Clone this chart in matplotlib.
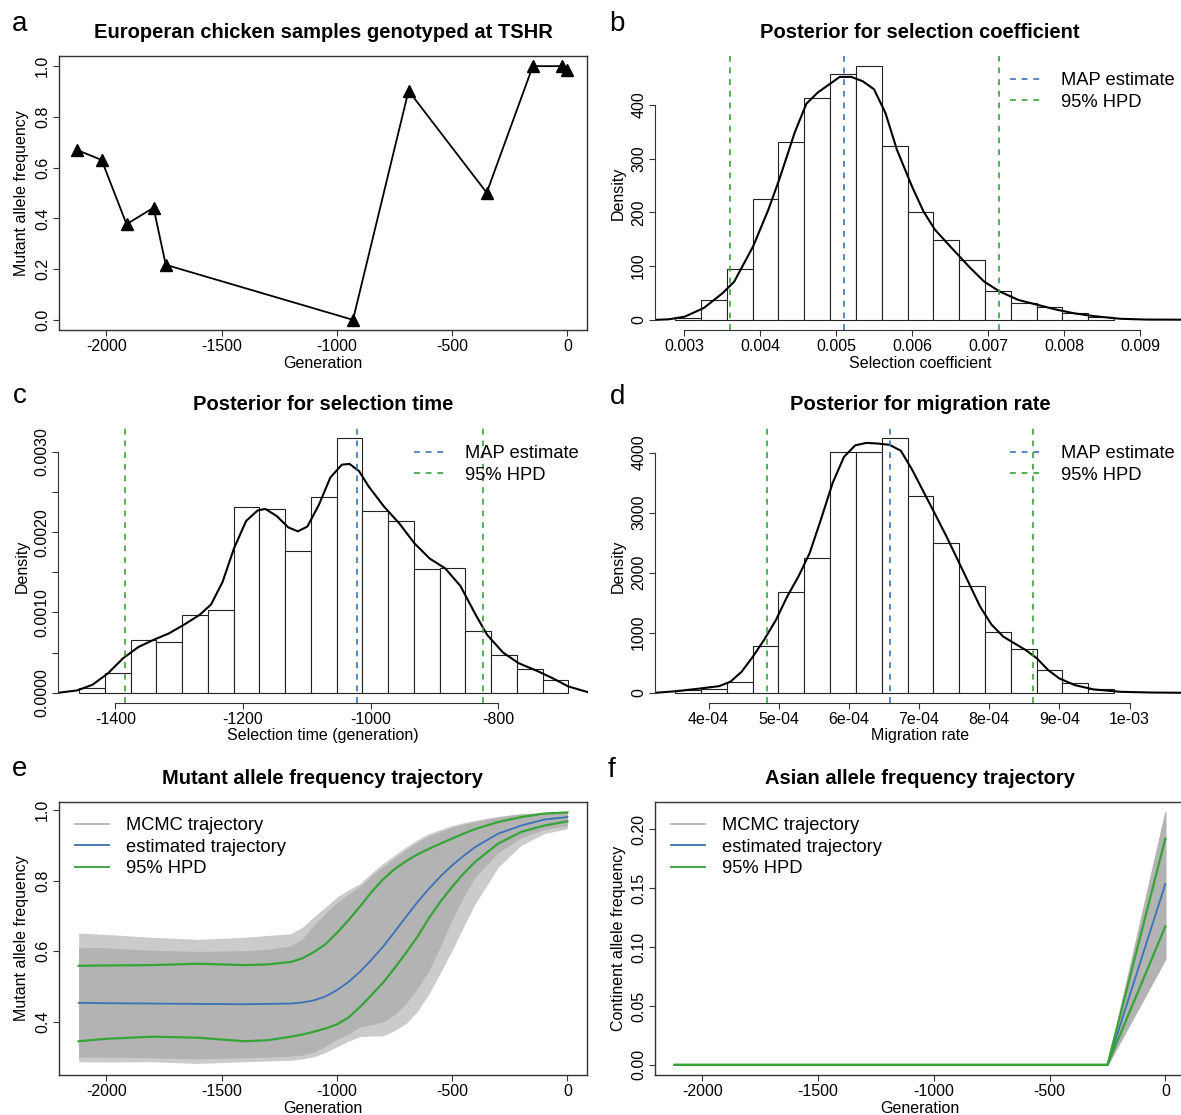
import numpy as np
import matplotlib
matplotlib.use("Agg")
import matplotlib.pyplot as plt
from matplotlib.lines import Line2D

plt.rcParams['font.family'] = ['Liberation Sans', 'DejaVu Sans']
plt.rcParams['axes.unicode_minus'] = False

# ---- panel a: sampled frequencies
a_gen = [-2125, -2020, -1912, -1795, -1742, -930, -689, -350, -150, -25, -2]
a_freq = [0.669, 0.630, 0.377, 0.442, 0.217, 0.0, 0.903, 0.501, 1.0, 1.0, 0.984]

# ---- panel b: selection coefficient posterior
b_edges = [0.002885, 0.003225, 0.003564, 0.003904, 0.004243, 0.004583, 0.004923,
           0.005262, 0.005602, 0.005941, 0.006281, 0.006621, 0.006960, 0.007300,
           0.007639, 0.007979, 0.008319, 0.008658]
b_hist = [3, 37, 94, 225, 331, 412, 457, 472, 324, 201, 148, 111, 53, 32, 24, 12, 6]
b_dens_x = [0.00262, 0.00280, 0.00301, 0.00326, 0.00351, 0.00366, 0.00391, 0.00411,
            0.00426, 0.00446, 0.00461, 0.00476, 0.00490, 0.00505, 0.00520, 0.00535,
            0.00550, 0.00565, 0.00580, 0.00600, 0.00615, 0.00630, 0.00650, 0.00675,
            0.00695, 0.00715, 0.00740, 0.00765, 0.00790, 0.00814, 0.00839, 0.00874,
            0.00909, 0.00960]
b_dens_y = [0, 1, 6, 22, 50, 71, 137, 205, 264, 350, 402, 423, 437, 452, 452, 444,
            429, 385, 317, 248, 202, 168, 137, 99, 71, 53, 37, 28, 19, 12, 7, 2, 0.5, 0.3]
b_map = 0.00511
b_hpd = [0.00361, 0.00714]

# ---- panel c: selection time posterior
c_edges = [-1457.0, -1416.6, -1376.2, -1335.8, -1295.4, -1255.1, -1214.7, -1174.3,
           -1133.9, -1093.5, -1053.1, -1012.7, -972.3, -931.9, -891.5, -851.2,
           -810.8, -770.4, -730.0, -689.6]
c_hist = [0.00006, 0.00025, 0.00066, 0.00063, 0.00097, 0.00103, 0.00231, 0.00229,
          0.00177, 0.00244, 0.00317, 0.00226, 0.00214, 0.00154, 0.00155, 0.00077,
          0.00047, 0.00030, 0.00016]
c_dens_x = [-1490, -1460, -1436, -1412, -1388, -1364, -1340, -1316, -1292, -1268, -1250,
            -1232, -1214, -1195, -1177, -1165, -1147, -1129, -1114, -1099, -1081, -1063,
            -1045, -1033, -1018, -1003, -979, -955, -931, -907, -883, -859, -835, -817,
            -792, -768, -738, -714, -690, -660]
c_dens_y = [0.0, 0.00003, 0.0001, 0.00024, 0.00043, 0.00057, 0.00066, 0.00074, 0.00085,
            0.00097, 0.00110, 0.00138, 0.00180, 0.00214, 0.00227, 0.00229, 0.0022,
            0.00206, 0.00201, 0.00207, 0.00234, 0.00268, 0.00284, 0.00285, 0.00276,
            0.00257, 0.00232, 0.00211, 0.00186, 0.00167, 0.00155, 0.00133, 0.00097,
            0.00072, 0.00050, 0.00037, 0.00027, 0.00018, 0.00008, 0.00001]
c_map = -1021
c_hpd = [-1385, -824]

# ---- panel d: migration rate posterior
d_edges = [3.525e-4, 3.893e-4, 4.261e-4, 4.628e-4, 4.996e-4, 5.364e-4, 5.732e-4,
           6.100e-4, 6.467e-4, 6.835e-4, 7.203e-4, 7.571e-4, 7.939e-4, 8.306e-4,
           8.674e-4, 9.042e-4, 9.410e-4, 9.778e-4]
d_hist = [39, 67, 178, 779, 1686, 2242, 4011, 4011, 4239, 3277, 2498, 1775, 1007, 723,
          378, 161, 56]
d_dens_x = [3.24e-4, 3.55e-4, 3.88e-4, 4.15e-4, 4.31e-4, 4.47e-4, 4.63e-4, 4.79e-4,
            4.96e-4, 5.12e-4, 5.28e-4, 5.44e-4, 5.60e-4, 5.77e-4, 5.93e-4, 6.09e-4,
            6.25e-4, 6.41e-4, 6.58e-4, 6.74e-4, 6.90e-4, 7.06e-4, 7.22e-4, 7.39e-4,
            7.55e-4, 7.71e-4, 7.87e-4, 8.03e-4, 8.20e-4, 8.36e-4, 8.52e-4, 8.68e-4,
            8.84e-4, 9.00e-4, 9.22e-4, 9.49e-4, 9.87e-4, 10.3e-4, 10.8e-4]
d_dens_y = [0, 28, 72, 111, 184, 350, 600, 880, 1213, 1602, 1936, 2325, 2882, 3500,
            3930, 4120, 4161, 4150, 4128, 4030, 3716, 3355, 2993, 2604, 2214, 1825,
            1435, 1139, 935, 823, 712, 573, 378, 239, 128, 56, 17, 5, 0]
d_map = 6.59e-4
d_hpd = [4.83e-4, 8.62e-4]

# ---- panel e: mutant allele trajectory
e_gen = [-2120, -2000, -1800, -1600, -1400, -1300, -1200, -1150, -1100, -1050, -1000,
         -950, -900, -850, -800, -750, -700, -650, -600, -550, -500, -450, -400,
         -300, -200, -100, 0]
e_outer_hi = [0.652, 0.648, 0.640, 0.634, 0.640, 0.645, 0.650, 0.668, 0.698, 0.725,
              0.754, 0.774, 0.792, 0.822, 0.849, 0.873, 0.896, 0.917, 0.934, 0.946,
              0.957, 0.965, 0.972, 0.983, 0.991, 0.994, 0.996]
e_core_hi = [0.612, 0.610, 0.603, 0.600, 0.602, 0.606, 0.615, 0.635, 0.675, 0.708,
             0.738, 0.762, 0.784, 0.814, 0.840, 0.865, 0.889, 0.910, 0.928, 0.940,
             0.952, 0.961, 0.968, 0.981, 0.990, 0.993, 0.995]
e_core_lo = [0.300, 0.300, 0.298, 0.295, 0.298, 0.300, 0.303, 0.306, 0.314, 0.330,
             0.350, 0.365, 0.385, 0.392, 0.400, 0.420, 0.452, 0.495, 0.545, 0.615,
             0.690, 0.755, 0.810, 0.880, 0.922, 0.946, 0.956]
e_outer_lo = [0.287, 0.286, 0.287, 0.282, 0.287, 0.289, 0.291, 0.295, 0.301, 0.313,
              0.329, 0.345, 0.358, 0.360, 0.360, 0.375, 0.395, 0.430, 0.480, 0.540,
              0.603, 0.670, 0.735, 0.839, 0.901, 0.934, 0.948]
e_est = [0.454, 0.453, 0.452, 0.451, 0.450, 0.451, 0.452, 0.455, 0.461, 0.472, 0.490,
         0.513, 0.542, 0.576, 0.613, 0.655, 0.698, 0.740, 0.778, 0.813, 0.844, 0.871,
         0.896, 0.934, 0.957, 0.974, 0.981]
e_hpd_hi = [0.559, 0.560, 0.561, 0.565, 0.561, 0.563, 0.570, 0.580, 0.598, 0.620,
            0.652, 0.688, 0.727, 0.768, 0.804, 0.833, 0.856, 0.875, 0.891, 0.906,
            0.920, 0.934, 0.947, 0.967, 0.981, 0.991, 0.994]
e_hpd_lo = [0.345, 0.352, 0.358, 0.355, 0.345, 0.348, 0.358, 0.364, 0.372, 0.381,
            0.393, 0.412, 0.442, 0.476, 0.511, 0.552, 0.596, 0.642, 0.695, 0.742,
            0.783, 0.821, 0.854, 0.906, 0.939, 0.957, 0.969]

# ---- panel f: Asian allele trajectory
f_gen = [-2120, -250, 0]
f_hi = [0.0, 0.0, 0.2145]
f_lo = [0.0, 0.0, 0.090]
f_est = [0.0, 0.0, 0.1535]
f_hpd_hi = [0.0, 0.0, 0.192]
f_hpd_lo = [0.0, 0.0, 0.1175]

BLUE = '#3b72b8'
GREEN = '#36a436'
GRAY = '#b3b3b3'
LIGHT = '#cbcbcb'
DASH = (0, (3.5, 3.5))

W, H = 1181, 1115
fig = plt.figure(figsize=(W / 100, H / 100), dpi=100)


def px_axes(l, t, r, b):
    return fig.add_axes([l / W, 1 - b / H, (r - l) / W, (b - t) / H])


def ftext(x, y, s, **kw):
    fig.text(x / W, 1 - y / H, s, **kw)


def ticks(ax, xt, xl, yt, yl, box=True):
    ax.set_xticks(xt)
    ax.set_xticklabels(xl)
    ax.set_yticks(yt)
    ax.set_yticklabels(yl, rotation=90, va='center')
    ax.tick_params(direction='out', length=4.3, width=0.8, labelsize=11.5, pad=2,
                   color='#333333')
    if box:
        for s in ax.spines.values():
            s.set_color('#333333')
            s.set_linewidth(1.0)
    else:
        ax.spines['top'].set_visible(False)
        ax.spines['right'].set_visible(False)
        ax.spines['left'].set_bounds(yt[0], yt[-1])
        ax.spines['bottom'].set_bounds(xt[0], xt[-1])
        for s in ('left', 'bottom'):
            ax.spines[s].set_color('#333333')
            ax.spines[s].set_linewidth(0.8)


def legend(ax, handles, labels, x, y):
    ax.legend(handles, labels, loc='upper left', bbox_to_anchor=(x / W, 1 - y / H),
              bbox_transform=fig.transFigure, frameon=False, fontsize=13.2,
              handlelength=1.84, handletextpad=0.95, labelspacing=0.25,
              borderpad=0, borderaxespad=0)


def posterior(ax, edges, hist, dx, dy, map_v, hpd):
    ax.bar(edges[:-1], hist, width=np.diff(edges), align='edge', facecolor='white',
           edgecolor='#222222', linewidth=0.8)
    ax.plot(dx, dy, color='black', lw=1.5)
    ax.axvline(map_v, color=BLUE, lw=1.2, ls=DASH)
    for h in hpd:
        ax.axvline(h, color=GREEN, lw=1.2, ls=DASH)
    top = max(hist)
    ax.set_ylim(-0.04 * top, 1.04 * top)
    hl = [Line2D([], [], color=BLUE, lw=1.2, ls=DASH),
          Line2D([], [], color=GREEN, lw=1.2, ls=DASH)]
    return hl


gen_ticks = [-2000, -1500, -1000, -500, 0]
gen_labels = ['-2000', '-1500', '-1000', '-500', '0']

# a
ax = px_axes(59, 56, 587, 330)
ax.plot(a_gen, a_freq, color='black', lw=1.3, marker='^', markersize=8.5)
ax.set_xlim(-2205, 85)
ax.set_ylim(-0.04, 1.04)
ticks(ax, gen_ticks, gen_labels, [0, 0.2, 0.4, 0.6, 0.8, 1.0],
      ['0.0', '0.2', '0.4', '0.6', '0.8', '1.0'])
ftext(323, 33, 'Europeran chicken samples genotyped at TSHR', ha='center', va='center',
      fontsize=14.5, fontweight='bold')
ftext(323, 368, 'Generation', ha='center', va='baseline', fontsize=11.5)
ftext(22, 193, 'Mutant allele frequency', ha='center', va='center', rotation=90,
      fontsize=11.5)

# b
ax = px_axes(655, 56, 1185, 330)
hl = posterior(ax, b_edges, b_hist, b_dens_x, b_dens_y, b_map, b_hpd)
ax.set_xlim(0.002618, 0.009592)
ticks(ax, [0.003, 0.004, 0.005, 0.006, 0.007, 0.008, 0.009],
      ['0.003', '0.004', '0.005', '0.006', '0.007', '0.008', '0.009'],
      [0, 100, 200, 300, 400], ['0', '100', '200', '300', '400'], box=False)
legend(ax, hl, ['MAP estimate', '95% HPD'], 1010, 72)
ftext(920, 33, 'Posterior for selection coefficient', ha='center', va='center',
      fontsize=14.5, fontweight='bold')
ftext(920, 368, 'Selection coefficient', ha='center', va='baseline', fontsize=11.5)
ftext(618, 193, 'Density', ha='center', va='center', rotation=90, fontsize=11.5)

# c
ax = px_axes(58, 428, 588, 703)
hl = posterior(ax, c_edges, c_hist, c_dens_x, c_dens_y, c_map, c_hpd)
ax.set_xlim(-1490, -659)
ticks(ax, [-1400, -1200, -1000, -800], ['-1400', '-1200', '-1000', '-800'],
      [0, 0.0005, 0.001, 0.0015, 0.002, 0.0025, 0.003],
      ['0.0000', '', '0.0010', '', '0.0020', '', '0.0030'], box=False)
legend(ax, hl, ['MAP estimate', '95% HPD'], 414, 445)
ftext(323, 405, 'Posterior for selection time', ha='center', va='center',
      fontsize=14.5, fontweight='bold')
ftext(323, 740, 'Selection time (generation)', ha='center', va='baseline', fontsize=11.5)
ftext(22, 566, 'Density', ha='center', va='center', rotation=90, fontsize=11.5)

# d
ax = px_axes(655, 428, 1185, 703)
hl = posterior(ax, d_edges, d_hist, d_dens_x, d_dens_y, d_map, d_hpd)
ax.set_xlim(3.236e-4, 10.79e-4)
ticks(ax, [4e-4, 5e-4, 6e-4, 7e-4, 8e-4, 9e-4, 1e-3],
      ['4e-04', '5e-04', '6e-04', '7e-04', '8e-04', '9e-04', '1e-03'],
      [0, 1000, 2000, 3000, 4000], ['0', '1000', '2000', '3000', '4000'], box=False)
legend(ax, hl, ['MAP estimate', '95% HPD'], 1010, 445)
ftext(920, 405, 'Posterior for migration rate', ha='center', va='center',
      fontsize=14.5, fontweight='bold')
ftext(920, 740, 'Migration rate', ha='center', va='baseline', fontsize=11.5)
ftext(618, 566, 'Density', ha='center', va='center', rotation=90, fontsize=11.5)

traj_handles = [Line2D([], [], color=GRAY, lw=1.3), Line2D([], [], color=BLUE, lw=1.3),
                Line2D([], [], color=GREEN, lw=1.3)]
traj_labels = ['MCMC trajectory', 'estimated trajectory', '95% HPD']

# e
ax = px_axes(59, 802, 587, 1075)
ax.fill_between(e_gen, e_outer_lo, e_outer_hi, color=LIGHT, lw=0)
ax.fill_between(e_gen, e_core_lo, e_core_hi, color=GRAY, lw=0)
ax.plot(e_gen, e_est, color=BLUE, lw=1.3)
ax.plot(e_gen, e_hpd_hi, color=GREEN, lw=1.6)
ax.plot(e_gen, e_hpd_lo, color=GREEN, lw=1.6)
ax.set_xlim(-2205, 85)
ax.set_ylim(0.2493, 1.0237)
ticks(ax, gen_ticks, gen_labels, [0.4, 0.6, 0.8, 1.0], ['0.4', '0.6', '0.8', '1.0'])
legend(ax, traj_handles, traj_labels, 75, 817)
ftext(323, 778, 'Mutant allele frequency trajectory', ha='center', va='center',
      fontsize=14.5, fontweight='bold')
ftext(323, 1113, 'Generation', ha='center', va='baseline', fontsize=11.5)
ftext(22, 938, 'Mutant allele frequency', ha='center', va='center', rotation=90,
      fontsize=11.5)

# f
ax = px_axes(655, 802, 1185, 1075)
ax.fill_between(f_gen, f_lo, f_hi, color=GRAY, lw=1.0, edgecolor=GRAY)
ax.plot(f_gen, f_est, color=BLUE, lw=1.3)
ax.plot(f_gen, f_hpd_hi, color=GREEN, lw=1.6)
ax.plot(f_gen, f_hpd_lo, color=GREEN, lw=1.6)
ax.set_xlim(-2205, 85)
ax.set_ylim(-0.0086, 0.2231)
ticks(ax, gen_ticks, gen_labels, [0, 0.05, 0.10, 0.15, 0.20],
      ['0.00', '0.05', '0.10', '0.15', '0.20'])
legend(ax, traj_handles, traj_labels, 671, 817)
ftext(920, 778, 'Asian allele frequency trajectory', ha='center', va='center',
      fontsize=14.5, fontweight='bold')
ftext(920, 1113, 'Generation', ha='center', va='baseline', fontsize=11.5)
ftext(619, 938, 'Continent allele frequency', ha='center', va='center', rotation=90,
      fontsize=11.5)

# panel letters
for lx, ly, s in [(12, 31, 'a'), (609, 31, 'b'), (13, 403, 'c'), (610, 404, 'd'),
                  (12, 776, 'e'), (608, 777, 'f')]:
    ftext(lx, ly, s, ha='left', va='baseline', fontsize=20)

fig.savefig('out.png', dpi=100)
